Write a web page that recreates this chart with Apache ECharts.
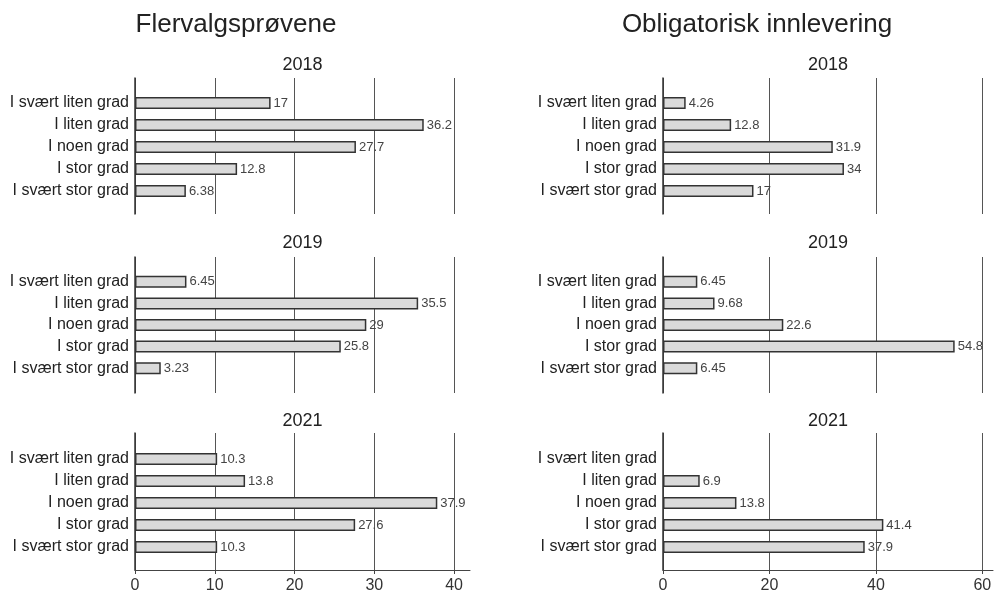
<!DOCTYPE html>
<html>
<head>
<meta charset="utf-8">
<script src="https://cdn.jsdelivr.net/npm/echarts@6/dist/echarts.min.js"></script>
<style>
html,body{margin:0;padding:0;background:#fff;}
#chart{width:995px;height:594px;}
</style>
</head>
<body>
<div id="chart"></div>
<script>
// ---- data ----
const categories = ['I svært liten grad', 'I liten grad', 'I noen grad', 'I stor grad', 'I svært stor grad'];
const years = ['2018', '2019', '2021'];
const panelTitles = ['Flervalgsprøvene', 'Obligatorisk innlevering'];
const flervalg2018 = [17, 36.2, 27.7, 12.8, 6.38];
const flervalg2019 = [6.45, 35.5, 29, 25.8, 3.23];
const flervalg2021 = [10.3, 13.8, 37.9, 27.6, 10.3];
const oblig2018 = [4.26, 12.8, 31.9, 34, 17];
const oblig2019 = [6.45, 9.68, 22.6, 54.8, 6.45];
const oblig2021 = [null, 6.9, 13.8, 41.4, 37.9];
const leftTicks = [0, 10, 20, 30, 40];
const rightTicks = [0, 20, 40, 60];

// ---- layout ----
const FONT = 'Liberation Sans, Arial, sans-serif';
const cols = [
  { left: 135, width: 335, max: 42, ticks: leftTicks, data: [flervalg2018, flervalg2019, flervalg2021], titleX: 236 },
  { left: 663, width: 330, max: 62, ticks: rightTicks, data: [oblig2018, oblig2019, oblig2021], titleX: 757 }
];
const rows = [
  { top: 78, height: 136, barTop: 92, barHeight: 110, yearY: 65 },
  { top: 257, height: 136, barTop: 271, barHeight: 108, yearY: 243 },
  { top: 433, height: 139, barTop: 448, barHeight: 110, yearY: 421 }
];

const grid = [], xAxis = [], yAxis = [], series = [], graphic = [];
let gi = 0;
cols.forEach((c, ci) => {
  graphic.push({
    type: 'text', x: c.titleX, y: 25,
    style: { text: panelTitles[ci], align: 'center', verticalAlign: 'middle', fontSize: 26, fontFamily: FONT, fill: '#222' }
  });
  rows.forEach((r, ri) => {
    const isBottom = ri === rows.length - 1;
    graphic.push({
      type: 'text', x: c.left + c.width / 2, y: r.yearY,
      style: { text: years[ri], align: 'center', verticalAlign: 'middle', fontSize: 18, fontFamily: FONT, fill: '#222' }
    });
    // frame grid: gridlines, axis lines, ticks
    grid.push({ left: c.left, top: r.top, width: c.width, height: r.height });
    xAxis.push({
      type: 'value', gridIndex: gi, min: 0, max: c.max,
      axisLine: { show: isBottom, onZero: false, lineStyle: { color: '#444', width: 1 } },
      axisTick: { show: isBottom, length: 4, customValues: c.ticks, lineStyle: { color: '#444' } },
      axisLabel: { show: isBottom, customValues: c.ticks, fontSize: 16, fontFamily: FONT, color: '#333', margin: 8 },
      splitLine: { show: true, lineStyle: { color: '#555', width: 1 } }
    });
    yAxis.push({
      type: 'value', gridIndex: gi, min: 0, max: 1,
      axisLine: { show: true, onZero: false, lineStyle: { color: '#333', width: 1.5 } },
      axisTick: { show: false }, axisLabel: { show: false }, splitLine: { show: false }
    });
    gi++;
    // bar grid
    grid.push({ left: c.left, top: r.barTop, width: c.width, height: r.barHeight });
    xAxis.push({
      type: 'value', gridIndex: gi, min: 0, max: c.max,
      axisLine: { show: false }, axisTick: { show: false }, axisLabel: { show: false }, splitLine: { show: false }
    });
    yAxis.push({
      type: 'category', gridIndex: gi, data: categories, inverse: true,
      axisLine: { show: false }, axisTick: { show: false }, splitLine: { show: false },
      axisLabel: { show: true, fontSize: 16, fontFamily: FONT, color: '#222', margin: 6 }
    });
    series.push({
      type: 'bar', xAxisIndex: gi, yAxisIndex: gi, barWidth: 12,
      data: c.data[ri],
      itemStyle: { color: '#dadada', borderColor: '#333', borderWidth: 1.5 },
      label: { show: true, position: 'right', distance: 3, fontSize: 13, fontFamily: FONT, color: '#444' },
      animation: false, silent: true
    });
    gi++;
  });
});

const chart = echarts.init(document.getElementById('chart'), null, { renderer: 'canvas' });
chart.setOption({
  backgroundColor: '#fff',
  animation: false,
  grid, xAxis, yAxis, series, graphic
});
</script>
</body>
</html>
